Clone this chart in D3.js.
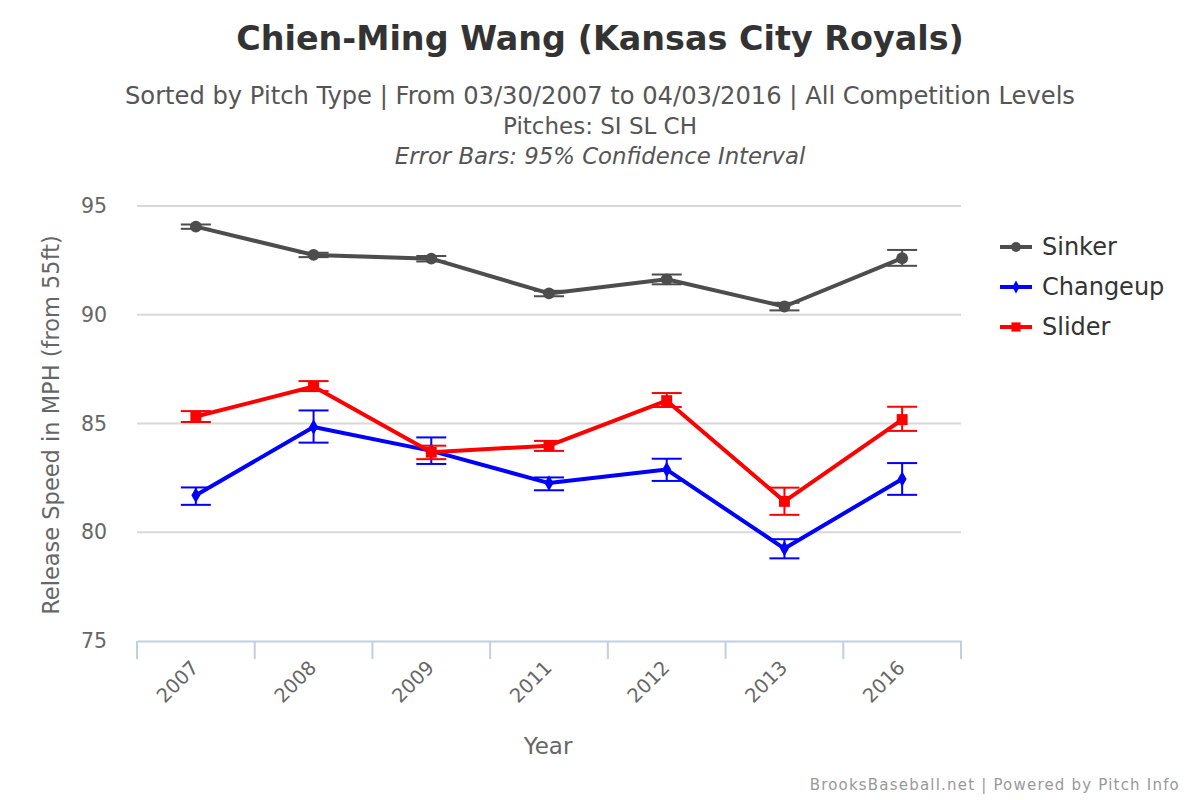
<!DOCTYPE html>
<html><head><meta charset="utf-8">
<script src="https://cdn.jsdelivr.net/npm/d3@7"></script>
<style>body{margin:0;background:#fff;} text{font-family:"DejaVu Sans","Lucida Grande",sans-serif;}</style>
</head><body><svg id="c" width="1200" height="800"></svg>
<script>
const years = ["2007","2008","2009","2011","2012","2013","2016"];
const sinker = [94.05, 92.75, 92.58, 90.98, 91.63, 90.38, 92.6];
const sinkerLo = [93.95, 92.65, 92.45, 90.85, 91.4, 90.2, 92.25];
const sinkerHi = [94.15, 92.85, 92.7, 91.1, 91.85, 90.55, 92.98];
const changeup = [81.7, 84.84, 83.74, 82.26, 82.88, 79.25, 82.45];
const changeupLo = [81.26, 84.12, 83.14, 81.93, 82.36, 78.8, 81.72];
const changeupHi = [82.06, 85.6, 84.36, 82.52, 83.38, 79.68, 83.18];
const slider = [85.32, 86.7, 83.68, 83.98, 86.05, 81.42, 85.18];
const sliderLo = [85.07, 86.49, 83.36, 83.74, 85.76, 80.8, 84.66];
const sliderHi = [85.57, 86.95, 83.98, 84.2, 86.4, 82.05, 85.77];
const yTicks = [75, 80, 85, 90, 95];

const series = [
  {name:"Sinker", vals:sinker, lo:sinkerLo, hi:sinkerHi, color:"#4d4d4d", shape:d3.symbolCircle, size:110},
  {name:"Changeup", vals:changeup, lo:changeupLo, hi:changeupHi, color:"#0000ff", shape:d3.symbolDiamond, size:70},
  {name:"Slider", vals:slider, lo:sliderLo, hi:sliderHi, color:"#ff0000", shape:d3.symbolSquare, size:120}
];

const svg = d3.select("#c");
const L=137, R=961, T=206, B=641;
const x = d3.scaleBand().domain(years).range([L,R]);
const y = d3.scaleLinear().domain([75,95]).range([B,T]);
const cx = d => x(d)+x.bandwidth()/2;

// titles
svg.append("text").attr("x",600).attr("y",50).attr("text-anchor","middle")
  .attr("font-size",33.4).attr("font-weight","bold").attr("fill","#333")
  .text("Chien-Ming Wang (Kansas City Royals)");
svg.append("text").attr("x",600).attr("y",104).attr("text-anchor","middle")
  .attr("font-size",24.2).attr("fill","#555")
  .text("Sorted by Pitch Type | From 03/30/2007 to 04/03/2016 | All Competition Levels");
svg.append("text").attr("x",600).attr("y",134).attr("text-anchor","middle")
  .attr("font-size",23).attr("fill","#555").text("Pitches: SI SL CH");
svg.append("text").attr("x",600).attr("y",164).attr("text-anchor","middle")
  .attr("font-size",22.8).attr("fill","#555").attr("font-style","italic")
  .text("Error Bars: 95% Confidence Interval");

// grid
svg.append("g").selectAll("line").data(yTicks.filter(t=>t>75)).join("line")
  .attr("x1",L).attr("x2",R).attr("y1",d=>y(d)).attr("y2",d=>y(d))
  .attr("stroke","#d8d8d8").attr("stroke-width",2);

// y axis labels
const yAxis = svg.append("g").attr("transform",`translate(${L},0)`)
  .call(d3.axisLeft(y).tickValues(yTicks).tickSize(0).tickPadding(30));
yAxis.select(".domain").remove();
yAxis.selectAll("text").attr("font-size",20.5).attr("fill","#666")
  .style("font-family","'DejaVu Sans',sans-serif");

svg.append("text").attr("transform","translate(59,425) rotate(-90)")
  .attr("text-anchor","middle").attr("font-size",22.5).attr("fill","#666")
  .text("Release Speed in MPH (from 55ft)");

// x axis
const xAxis = svg.append("g").attr("transform",`translate(0,${B})`)
  .call(d3.axisBottom(x).tickSize(0));
xAxis.select(".domain").attr("stroke","#c0d0e0").attr("stroke-width",2);
xAxis.selectAll(".tick line").remove();
const bounds = [L].concat(years.map(d=>x(d)+x.bandwidth()));
svg.append("g").selectAll("line").data(bounds).join("line")
  .attr("x1",d=>d).attr("x2",d=>d).attr("y1",B).attr("y2",B+18)
  .attr("stroke","#c0d0e0").attr("stroke-width",2);
xAxis.selectAll(".tick text").attr("font-size",19.5).attr("fill","#666")
  .style("font-family","'DejaVu Sans',sans-serif")
  .attr("text-anchor","end").attr("dy",0).attr("y",0)
  .attr("transform","translate(4,28) rotate(-45)");
svg.append("text").attr("x",548).attr("y",754).attr("text-anchor","middle")
  .attr("font-size",23).attr("fill","#666").text("Year");

// series
const line = d3.line();
series.forEach(s=>{
  const g = svg.append("g");
  years.forEach((yr,i)=>{
    const px = cx(yr);
    g.append("line").attr("x1",px).attr("x2",px).attr("y1",y(s.lo[i])).attr("y2",y(s.hi[i]))
      .attr("stroke",s.color).attr("stroke-width",2);
    [s.lo[i], s.hi[i]].forEach(v=>{
      g.append("line").attr("x1",px-15).attr("x2",px+15).attr("y1",y(v)).attr("y2",y(v))
        .attr("stroke",s.color).attr("stroke-width",2);
    });
  });
  g.append("path").attr("d",line(years.map((yr,i)=>[cx(yr),y(s.vals[i])])))
    .attr("fill","none").attr("stroke",s.color).attr("stroke-width",4).attr("stroke-linejoin","round");
  g.selectAll("path.m").data(s.vals).join("path").attr("class","m")
    .attr("transform",(d,i)=>`translate(${cx(years[i])},${y(d)})`)
    .attr("d",d3.symbol().type(s.shape).size(s.size)).attr("fill",s.color);
});

// legend
series.forEach((s,i)=>{
  const ly = 247 + i*40;
  svg.append("line").attr("x1",1000).attr("x2",1032).attr("y1",ly).attr("y2",ly)
    .attr("stroke",s.color).attr("stroke-width",4);
  svg.append("path").attr("transform",`translate(1016,${ly})`)
    .attr("d",d3.symbol().type(s.shape).size(s.size*0.7)).attr("fill",s.color);
  svg.append("text").attr("x",1042).attr("y",ly+8).attr("font-size",24).attr("fill","#333").text(s.name);
});

// credits
svg.append("text").attr("x",1180).attr("y",790).attr("text-anchor","end")
  .attr("font-size",15).attr("fill","#999").attr("letter-spacing",1.2)
  .text("BrooksBaseball.net | Powered by Pitch Info");
</script></body></html>
